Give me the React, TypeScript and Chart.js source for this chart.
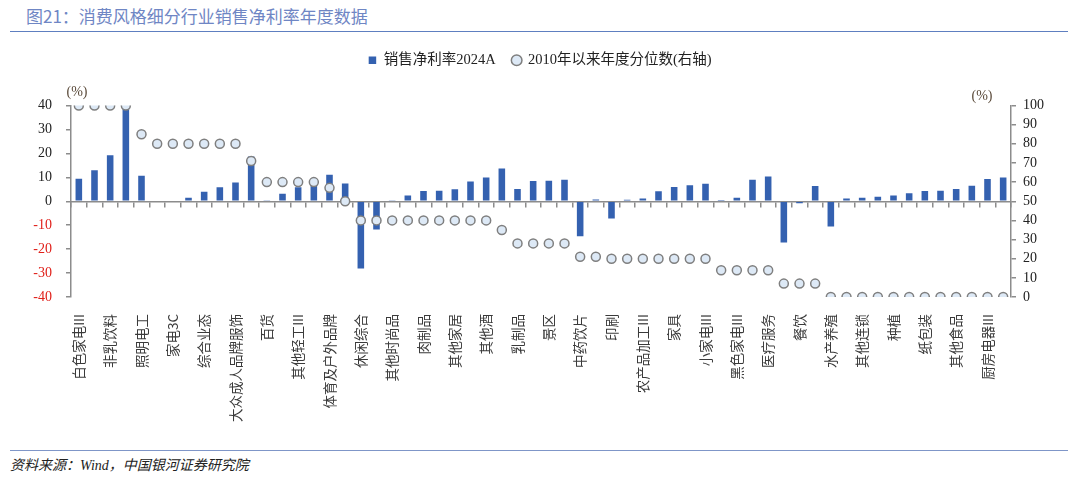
import React, { useEffect, useRef } from 'react';
import { Chart, registerables } from 'chart.js';

Chart.register(...registerables);

const categories: string[] = [
  '白色家电III', '', '非乳饮料', '', '照明电工', '', '家电3C', '', '综合业态', '',
  '大众成人品牌服饰', '', '百货', '', '其他轻工III', '', '体育及户外品牌', '', '休闲综合', '',
  '其他时尚品', '', '肉制品', '', '其他家居', '', '其他酒', '', '乳制品', '',
  '景区', '', '中药饮片', '', '印刷', '', '农产品加工III', '', '家具', '',
  '小家电III', '', '黑色家电III', '', '医疗服务', '', '餐饮', '', '水产养殖', '',
  '其他连锁', '', '种植', '', '纸包装', '', '其他食品', '', '厨房电器III', '',
];

const netMargin2024: number[] = [
  9.4, 12.9, 19.2, 39.2, 10.7, -0.3, 0.3, 1.5, 4.0, 5.8,
  7.8, 18.7, 0.2, 3.1, 5.8, 6.9, 11.1, 7.4, -28.1, -11.8,
  0.2, 2.4, 4.3, 4.4, 5.0, 8.3, 9.9, 13.7, 5.1, 8.5,
  8.6, 9.0, -14.6, 0.7, -7.2, 0.6, 1.2, 4.2, 6.0, 6.7,
  7.3, 0.1, 1.5, 9.0, 10.3, -17.2, -0.8, 6.4, -10.6, 1.1,
  1.5, 1.9, 2.4, 3.3, 4.3, 4.4, 5.1, 6.5, 9.3, 9.9,
];

const percentileSince2010: number[] = [
  100, 100, 100, 100, 85, 80, 80, 80, 80, 80,
  80, 71, 60, 60, 60, 60, 57, 50, 40, 40,
  40, 40, 40, 40, 40, 40, 40, 35, 28, 28,
  28, 28, 21, 21, 20, 20, 20, 20, 20, 20,
  20, 14, 14, 14, 14, 7, 7, 7, 0, 0,
  0, 0, 0, 0, 0, 0, 0, 0, 0, 0,
];

const leftTicks = { min: -40, max: 40, step: 10 };
const rightTicks = { min: 0, max: 100, step: 10 };

const BAR_COLOR = '#3461b0';
const AXIS_COLOR = '#8c8c8c';
const SERIF = "'Liberation Serif', 'Noto Sans CJK SC', serif";
const SANS = "'Noto Sans CJK SC', 'Noto Sans', sans-serif";

const unitPlugin = {
  id: 'unitLabels',
  afterDraw(chart: any) {
    const { ctx, chartArea } = chart;
    ctx.save();
    ctx.font = `14px ${SERIF}`;
    ctx.fillStyle = '#5a4a3a';
    ctx.textAlign = 'center';
    ctx.textBaseline = 'middle';
    ctx.fillText('(%)', chartArea.left + 6, chartArea.top - 13);
    ctx.fillText('(%)', chartArea.right - 29, chartArea.top - 9);
    ctx.restore();
  },
};

function ChartCanvas() {
  const ref = useRef<HTMLCanvasElement | null>(null);
  useEffect(() => {
    if (!ref.current) return;
    const chart = new Chart(ref.current, {
      type: 'bar',
      data: {
        labels: categories,
        datasets: [
          {
            type: 'bar',
            label: '销售净利率2024A',
            data: netMargin2024,
            backgroundColor: BAR_COLOR,
            borderWidth: 0,
            barPercentage: 0.42,
            categoryPercentage: 1,
            yAxisID: 'y',
            xAxisID: 'x',
            order: 1,
            pointStyle: 'rect',
          } as any,
          {
            type: 'line',
            label: '2010年以来年度分位数(右轴)',
            data: percentileSince2010,
            showLine: false,
            backgroundColor: '#dde9f6',
            borderColor: '#7f7f7f',
            pointBackgroundColor: '#dde9f6',
            pointBorderColor: '#7f7f7f',
            pointBorderWidth: 1.5,
            borderWidth: 1.5,
            pointRadius: 4.5,
            pointStyle: 'circle',
            yAxisID: 'y1',
            xAxisID: 'x',
            order: 0,
          } as any,
        ],
      },
      options: {
        animation: false,
        responsive: false,
        maintainAspectRatio: false,
        layout: { padding: 0 },
        plugins: {
          legend: {
            display: true,
            position: 'top',
            weight: 3000,
            labels: {
              usePointStyle: true,
              boxWidth: 8,
              boxHeight: 7.5,
              padding: 17,
              color: '#222',
              font: { family: SERIF, size: 14.5 },
              sort: (a: any, b: any) => a.datasetIndex - b.datasetIndex,
            },
          },
          title: {
            display: true,
            text: '',
            font: { size: 10, lineHeight: 1 },
            padding: { top: 0, bottom: 18 },
          },
          tooltip: { enabled: false },
        },
        scales: {
          x: {
            type: 'category',
            position: 'bottom',
            offset: true,
            grid: { display: false },
            border: { display: false },
            ticks: {
              autoSkip: false,
              minRotation: 90,
              maxRotation: 90,
              padding: 9,
              color: '#3a3a3a',
              font: { family: SANS, size: 13.5 },
            },
            afterFit: (s: any) => {
              s.height = 149;
            },
          },
          x2: {
            type: 'category',
            position: { y: 0 } as any,
            offset: true,
            grid: {
              offset: true,
              drawOnChartArea: false,
              drawTicks: true,
              tickLength: 5,
              color: AXIS_COLOR,
              lineWidth: 1.5,
            },
            border: { display: true, color: AXIS_COLOR, width: 1.5 },
            ticks: { display: false, autoSkip: false },
          },
          y: {
            type: 'linear',
            position: 'left',
            min: leftTicks.min,
            max: leftTicks.max,
            grid: {
              drawOnChartArea: false,
              drawTicks: true,
              tickLength: 5,
              color: AXIS_COLOR,
              lineWidth: 1.5,
            },
            border: { display: true, color: AXIS_COLOR, width: 1.5 },
            ticks: {
              stepSize: leftTicks.step,
              autoSkip: false,
              padding: 14,
              font: { family: SERIF, size: 14 },
              color: (c: any) => (c.tick && c.tick.value < 0 ? '#e0201a' : '#222'),
            },
            afterFit: (s: any) => {
              s.width = 71;
            },
          },
          y1: {
            type: 'linear',
            position: 'right',
            min: rightTicks.min,
            max: rightTicks.max,
            grid: {
              drawOnChartArea: false,
              drawTicks: true,
              tickLength: 5,
              color: AXIS_COLOR,
              lineWidth: 1.5,
            },
            border: { display: true, color: AXIS_COLOR, width: 1.5 },
            ticks: {
              stepSize: rightTicks.step,
              autoSkip: false,
              padding: 7,
              font: { family: SERIF, size: 14 },
              color: '#222',
            },
            afterFit: (s: any) => {
              s.width = 69;
            },
          },
        },
      } as any,
      plugins: [unitPlugin],
    });
    return () => chart.destroy();
  }, []);
  return (
    <canvas
      ref={ref}
      width={1080}
      height={410}
      style={{ position: 'absolute', left: 0, top: 36, width: 1080, height: 410 }}
    />
  );
}

export default function App() {
  return (
    <div
      style={{
        position: 'absolute',
        left: 0,
        top: 0,
        width: 1080,
        height: 480,
        background: '#ffffff',
        overflow: 'hidden',
      }}
    >
      <div
        style={{
          position: 'absolute',
          left: 26,
          top: 4,
          fontFamily: SANS,
          fontSize: 17,
          color: '#6f86c4',
          lineHeight: '24px',
          whiteSpace: 'nowrap',
        }}
      >
        图21：消费风格细分行业销售净利率年度数据
      </div>
      <div
        style={{
          position: 'absolute',
          left: 10,
          top: 31,
          width: 1058,
          height: 0,
          borderTop: '1.5px solid #5e7fc0',
        }}
      />
      <ChartCanvas />
      <div
        style={{
          position: 'absolute',
          left: 10,
          top: 450,
          width: 1058,
          height: 0,
          borderTop: '1.5px solid #7f96c8',
        }}
      />
      <div
        style={{
          position: 'absolute',
          left: 10,
          top: 455,
          fontFamily: SERIF,
          fontStyle: 'italic',
          fontSize: 14,
          color: '#222',
          lineHeight: '22px',
          whiteSpace: 'nowrap',
        }}
      >
        资料来源：Wind，中国银河证券研究院
      </div>
    </div>
  );
}
